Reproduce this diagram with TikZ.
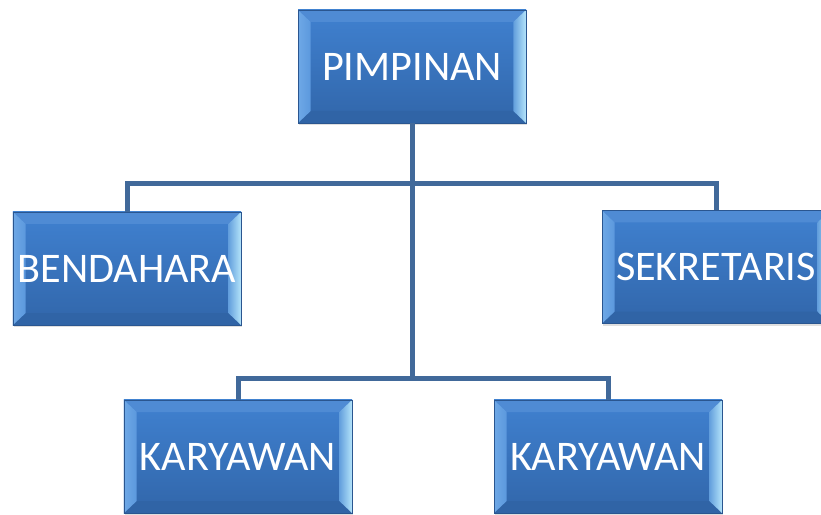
\documentclass[tikz,border=0pt]{standalone}
\usepackage{fontspec}
\setmainfont{Carlito}
\usepackage{tikz}
\usepackage{xcolor}
\usetikzlibrary{calc,shadows}

\definecolor{boxtop}{HTML}{4081D0}
\definecolor{boxbot}{HTML}{3166AA}
\definecolor{bevlight}{HTML}{B4E4FA}
\definecolor{bevleft}{HTML}{6EA8E6}
\definecolor{bevdark}{HTML}{2A5690}
\definecolor{linkblue}{HTML}{41699A}

\begin{document}
\begin{tikzpicture}[
	x = 0.03cm, y = -0.03cm,
	every node/.style = {rectangle, minimum width = 6.84cm, minimum height = 3.39cm, inner sep = 0pt,
		text = white, font = \fontsize{36}{40}\selectfont,
		top color = boxtop, bottom color = boxbot, draw = bevdark, line width = 0.4pt,
		drop shadow = {opacity = 0.25, shadow xshift = 0.04cm, shadow yshift = -0.07cm},
		path picture = {
			\fill[boxtop!92!white] (path picture bounding box.north west) -- (path picture bounding box.north east)
				-- ([shift={(-0.38cm,-0.36cm)}]path picture bounding box.north east) -- ([shift={(0.38cm,-0.36cm)}]path picture bounding box.north west) -- cycle;
			\fill[boxbot!85!bevdark] (path picture bounding box.south west) -- (path picture bounding box.south east)
				-- ([shift={(-0.38cm,0.36cm)}]path picture bounding box.south east) -- ([shift={(0.38cm,0.36cm)}]path picture bounding box.south west) -- cycle;
			\shade[left color = bevleft, right color = bevleft!60!boxtop] (path picture bounding box.south west) -- (path picture bounding box.north west)
				-- ([shift={(0.38cm,-0.36cm)}]path picture bounding box.north west) -- ([shift={(0.38cm,0.36cm)}]path picture bounding box.south west) -- cycle;
			\shade[left color = boxtop!70!bevlight, right color = bevlight] (path picture bounding box.south east) -- (path picture bounding box.north east)
				-- ([shift={(-0.38cm,-0.36cm)}]path picture bounding box.north east) -- ([shift={(-0.38cm,0.36cm)}]path picture bounding box.south east) -- cycle;
		}},
	link/.style = {draw = linkblue, line width = 0.15cm}
]
\useasboundingbox (0,0) rectangle (821,515);

\node (pimpinan) at (412,66.5) {PIMPINAN};
\node (bendahara) at (127,268.5) {BENDAHARA};
\node (sekretaris) at (716,267) {SEKRETARIS};
\node (karyawanA) at (238,456.5) {KARYAWAN};
\node (karyawanB) at (608,456.5) {KARYAWAN};

\coordinate (top) at (412,184);
\coordinate (bottom) at (412,378);

\draw[link] (pimpinan.south) -- (bottom);
\draw[link] (bendahara.north) |- (top) -| (sekretaris.north);
\draw[link] (karyawanA.north) |- (bottom) -| (karyawanB.north);
\end{tikzpicture}
\end{document}
